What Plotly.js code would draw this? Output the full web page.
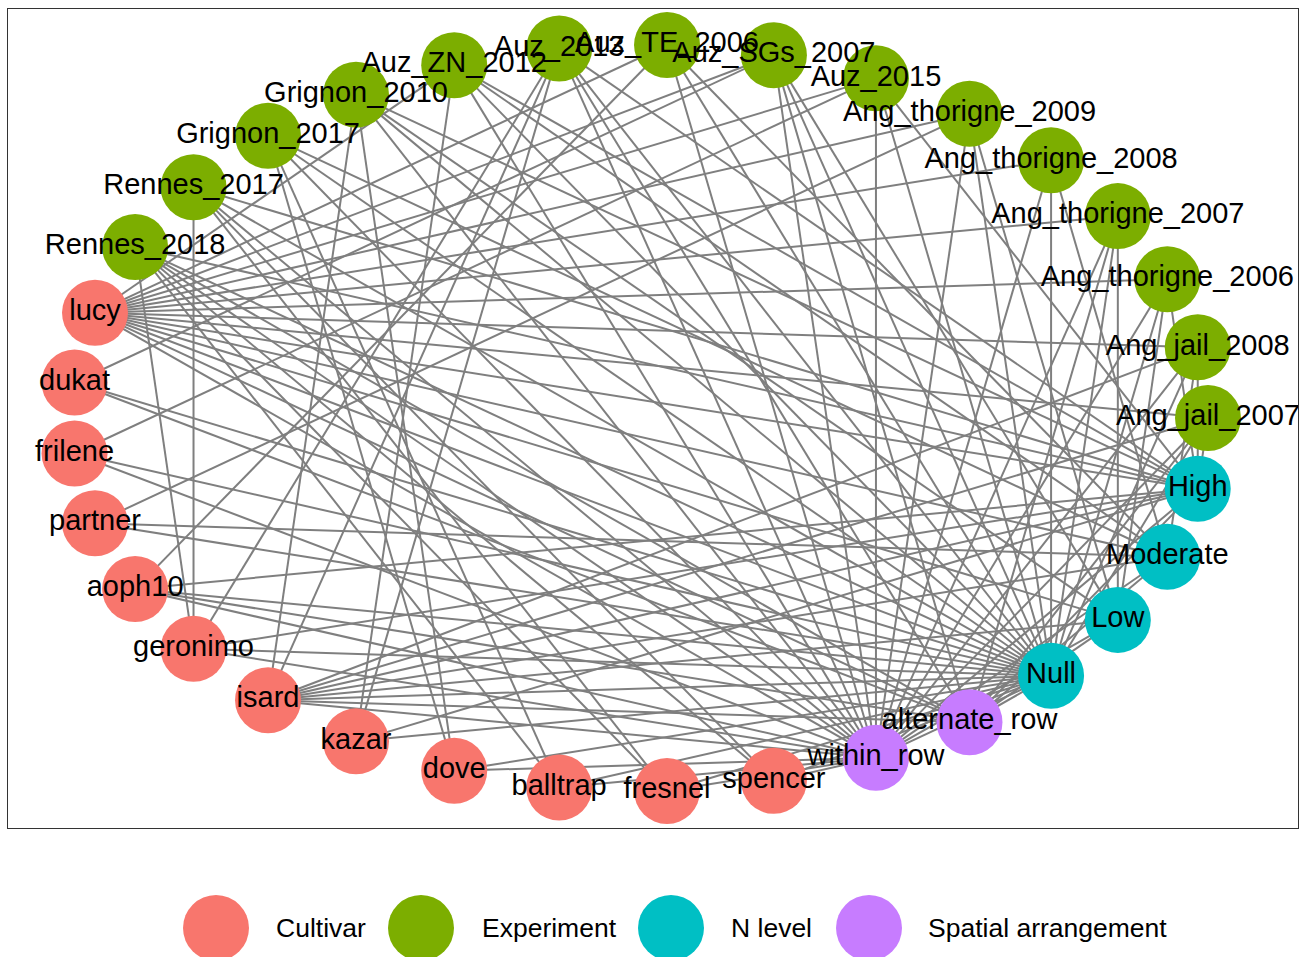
<!DOCTYPE html>
<html>
<head>
<meta charset="utf-8">
<script src="https://cdn.plot.ly/plotly-3.0.1.min.js"></script>
<style>html,body{margin:0;padding:0;background:#fff;}#chart{width:1299px;height:957px;}</style>
</head>
<body>
<div id="chart"></div>
<script>
// ---- data ----
const nodeNames = ["Ang_jail_2007","Ang_jail_2008","Ang_thorigne_2006","Ang_thorigne_2007","Ang_thorigne_2008","Ang_thorigne_2009","Auz_2015","Auz_SGs_2007","Auz_TE_2006","Auz_2013","Auz_ZN_2012","Grignon_2010","Grignon_2017","Rennes_2017","Rennes_2018","lucy","dukat","frilene","partner","aoph10","geronimo","isard","kazar","dove","balltrap","fresnel","spencer","within_row","alternate_row","Null","Low","Moderate","High"];
const nodeGroups = ["Experiment","Experiment","Experiment","Experiment","Experiment","Experiment","Experiment","Experiment","Experiment","Experiment","Experiment","Experiment","Experiment","Experiment","Experiment","Cultivar","Cultivar","Cultivar","Cultivar","Cultivar","Cultivar","Cultivar","Cultivar","Cultivar","Cultivar","Cultivar","Cultivar","Spatial arrangement","Spatial arrangement","N level","N level","N level","N level"];
const groupNames = ["Cultivar","Experiment","N level","Spatial arrangement"];
const groupColors = ["#F8766D","#7CAE00","#00BFC4","#C77CFF"];
const edgeFrom = [
 "lucy","lucy","lucy","lucy","lucy","lucy","lucy","lucy","lucy","lucy","lucy","lucy","lucy","lucy","lucy","lucy",
 "dukat","dukat","dukat",
 "frilene","frilene","frilene",
 "partner","partner","partner",
 "aoph10","aoph10","aoph10","aoph10","aoph10",
 "geronimo","geronimo","geronimo","geronimo","geronimo","geronimo",
 "isard","isard","isard","isard","isard","isard","isard","isard","isard","isard",
 "kazar","kazar","kazar","kazar",
 "dove","dove","dove","dove",
 "balltrap","balltrap","balltrap","balltrap",
 "fresnel","fresnel","fresnel","fresnel",
 "spencer","spencer","spencer","spencer",
 "Ang_jail_2007","Ang_jail_2007","Ang_jail_2007","Ang_jail_2007",
 "Ang_jail_2008","Ang_jail_2008","Ang_jail_2008","Ang_jail_2008",
 "Ang_thorigne_2006","Ang_thorigne_2006","Ang_thorigne_2006","Ang_thorigne_2006",
 "Ang_thorigne_2007","Ang_thorigne_2007","Ang_thorigne_2007","Ang_thorigne_2007",
 "Ang_thorigne_2008","Ang_thorigne_2008","Ang_thorigne_2008",
 "Ang_thorigne_2009","Ang_thorigne_2009","Ang_thorigne_2009",
 "Auz_2015","Auz_2015","Auz_2015",
 "Auz_SGs_2007","Auz_SGs_2007","Auz_SGs_2007","Auz_SGs_2007",
 "Auz_TE_2006","Auz_TE_2006","Auz_TE_2006",
 "Auz_2013","Auz_2013","Auz_2013","Auz_2013",
 "Auz_ZN_2012","Auz_ZN_2012","Auz_ZN_2012","Auz_ZN_2012",
 "Grignon_2010","Grignon_2010","Grignon_2010","Grignon_2010",
 "Grignon_2017","Grignon_2017","Grignon_2017",
 "Rennes_2017","Rennes_2017","Rennes_2017",
 "Rennes_2018","Rennes_2018","Rennes_2018","Rennes_2018",
 "Null","Null","Low","Low","Moderate","Moderate","High","High"
];
const edgeTo = [
 "Auz_ZN_2012","Auz_TE_2006","Auz_SGs_2007","Auz_2015","Ang_thorigne_2009","Ang_thorigne_2008","Ang_thorigne_2007","Ang_thorigne_2006","Ang_jail_2008","Ang_jail_2007","High","Moderate","Low","Null","alternate_row","within_row",
 "Auz_SGs_2007","Null","alternate_row",
 "Auz_2015","Null","within_row",
 "Ang_thorigne_2009","Moderate","Null",
 "Auz_TE_2006","High","Null","alternate_row","within_row",
 "Rennes_2017","Rennes_2018","Auz_2013","High","Null","within_row",
 "Grignon_2010","Auz_2013","Ang_jail_2008","Ang_jail_2007","High","Moderate","Low","Null","alternate_row","within_row",
 "Auz_ZN_2012","Auz_2013","High","Null",
 "Grignon_2010","Grignon_2017","Null","within_row",
 "Grignon_2017","Rennes_2018","Null","within_row",
 "Rennes_2017","Rennes_2018","Null","within_row",
 "Rennes_2017","Rennes_2018","Null","within_row",
 "High","Null","within_row","alternate_row",
 "High","Moderate","Null","within_row",
 "High","Low","Null","within_row",
 "Low","Null","alternate_row","within_row",
 "Moderate","Null","within_row",
 "Low","Null","within_row",
 "Null","High","within_row",
 "Null","Low","within_row","alternate_row",
 "Null","Moderate","within_row",
 "Null","High","within_row","alternate_row",
 "Null","High","Moderate","within_row",
 "Null","High","within_row","Low",
 "Null","Moderate","within_row",
 "Null","High","within_row",
 "Null","High","within_row","alternate_row",
 "within_row","alternate_row","within_row","alternate_row","within_row","alternate_row","within_row","alternate_row"
];

// ---- circle layout ----
const n = nodeNames.length;
const px = {}, py = {};
nodeNames.forEach((nm, i) => {
  const a = 2 * Math.PI * i / n;
  px[nm] = Math.cos(a);
  py[nm] = Math.sin(a);
});

const ex = [], ey = [];
for (let k = 0; k < edgeFrom.length; k++) {
  ex.push(px[edgeFrom[k]], px[edgeTo[k]], null);
  ey.push(py[edgeFrom[k]], py[edgeTo[k]], null);
}

const traces = [{
  type: "scatter", mode: "lines", x: ex, y: ey,
  line: {color: "#7F7F7F", width: 2}, hoverinfo: "skip", showlegend: false
}];
groupNames.forEach((g, gi) => {
  const names = nodeNames.filter((nm, i) => nodeGroups[i] === g);
  traces.push({
    type: "scatter", mode: "markers+text", name: g,
    x: names.map(nm => px[nm]), y: names.map(nm => py[nm]),
    text: names, textposition: "middle center",
    textfont: {family: "Liberation Sans, Arial, sans-serif", size: 29, color: "#000"},
    marker: {size: 66, color: groupColors[gi], line: {width: 0}},
    showlegend: false, hoverinfo: "text"
  });
});

// ---- geometry of the panel (pixels) ----
const W = 1299, H = 957;
const L = 8, T = 9, R = 1298, B = 828;
const cxPx = 640, cyPx = 418, rxPx = 568, ryPx = 373.4;
const xr = [-(cxPx - L) / rxPx, (R - cxPx) / rxPx];
const yr = [-(B - cyPx) / ryPx, (cyPx - T) / ryPx];
const pw = R - L, ph = B - T;
const toPX = v => (v - L) / pw;
const toPY = v => 1 - (v - T) / ph;

// custom legend (large keys)
const legKeyX = [216, 421, 671, 869];
const legTextX = [274, 480, 729, 926];
const legY = 928, legR = 33;
const shapes = [], annotations = [];
groupNames.forEach((g, gi) => {
  shapes.push({type: "circle", xref: "paper", yref: "paper",
    x0: toPX(legKeyX[gi] - legR), x1: toPX(legKeyX[gi] + legR),
    y0: toPY(legY + legR), y1: toPY(legY - legR),
    fillcolor: groupColors[gi], line: {width: 0}});
  annotations.push({xref: "paper", yref: "paper", x: toPX(legTextX[gi]), y: toPY(legY),
    xanchor: "left", yanchor: "middle", showarrow: false, text: g,
    font: {family: "Liberation Sans, Arial, sans-serif", size: 26.5, color: "#000"}});
});

const axisBase = {showgrid: false, zeroline: false, showticklabels: false, ticks: "",
  showline: true, mirror: true, linecolor: "#333333", linewidth: 1.2, fixedrange: true};

const layout = {
  width: W, height: H,
  margin: {l: L, r: W - R, t: T, b: H - B, pad: 0},
  paper_bgcolor: "#fff", plot_bgcolor: "#fff",
  xaxis: Object.assign({range: xr}, axisBase),
  yaxis: Object.assign({range: yr}, axisBase),
  showlegend: false,
  shapes: shapes, annotations: annotations,
  hovermode: false
};

Plotly.newPlot("chart", traces, layout, {displayModeBar: false, staticPlot: true});
</script>
</body>
</html>
